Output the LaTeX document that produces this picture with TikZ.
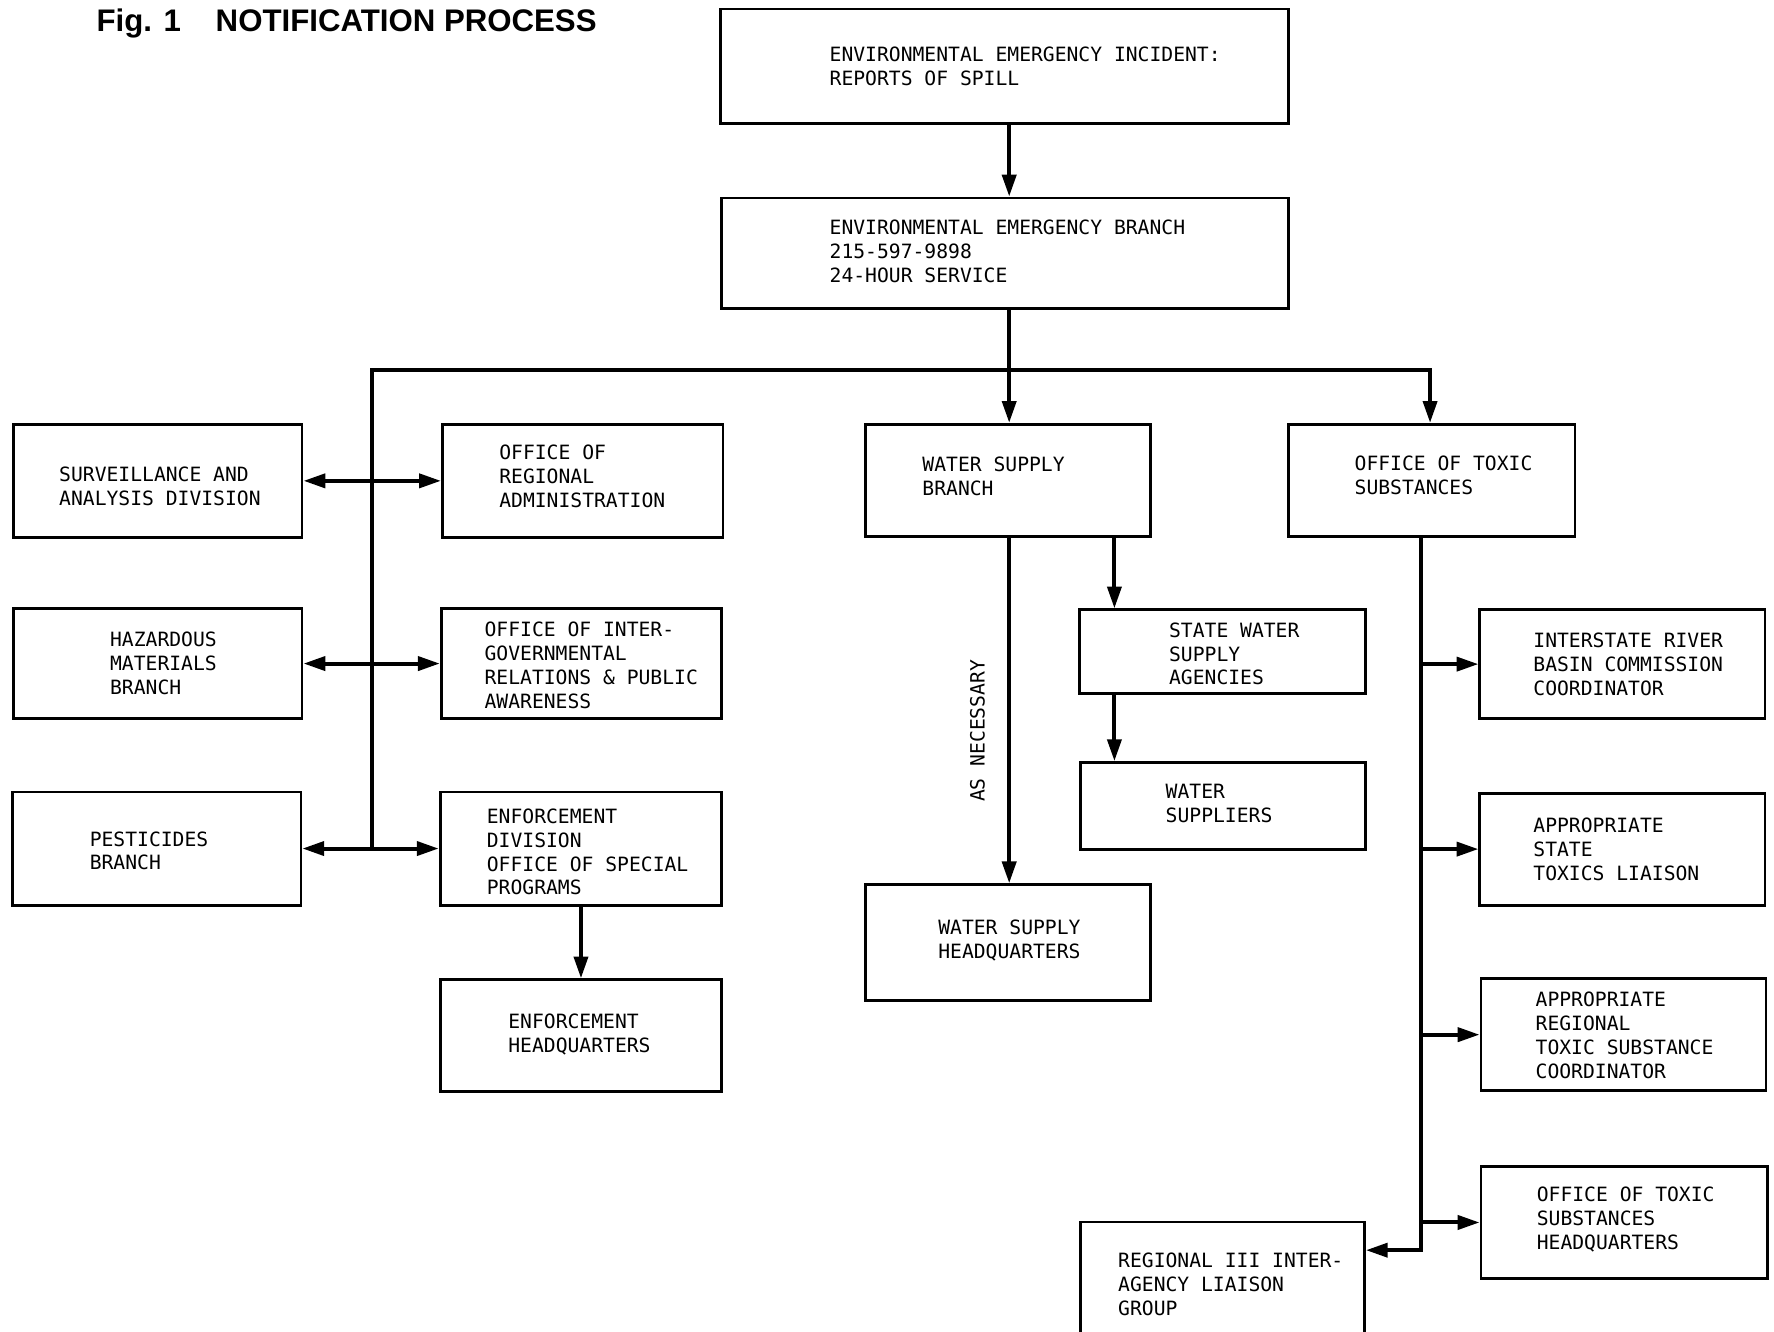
\documentclass[tikz,border=0pt]{standalone}
\usepackage{fontspec}
\newfontfamily\typer{DejaVu Sans Mono}
\newfontfamily\headfont{Liberation Sans}
\usetikzlibrary{arrows.meta,fit}

\begin{document}
\begin{tikzpicture}[x=0.02cm,y=-0.02cm,
  box/.style={draw, line width=1.4pt, inner sep=0pt},
  txt/.style={anchor=west, align=left, inner sep=0pt, font=\typer\fontsize{9.9}{12}\selectfont},
  line/.style={line width=2pt},
  arr/.style={line width=2pt, -{Triangle[length=11pt,width=7pt]}},
  dbl/.style={line width=2pt, {Triangle[length=11pt,width=7pt]}-{Triangle[length=11pt,width=7pt]}}]
\useasboundingbox (0,0) rectangle (1568,1177);
\node[anchor=base west, inner sep=0pt, font=\headfont\bfseries\fontsize{15.7}{19}\selectfont] (title) at (85,28) {Fig. 1\hspace{17.5pt}NOTIFICATION PROCESS};
% top of the chain
\node[box, fit={(637,8) (1139,109)}] (inc) {};
\node[txt] (inc-t) at (733,59) {ENVIRONMENTAL EMERGENCY INCIDENT:\\REPORTS OF SPILL};
\node[box, fit={(638,175) (1139,273)}] (eeb) {};
\node[txt] (eeb-t) at (733,222) {ENVIRONMENTAL EMERGENCY BRANCH\\215-597-9898\\24-HOUR SERVICE};
% left side
\node[box, fit={(12,375) (267,475)}] (surv) {};
\node[txt] (surv-t) at (52,430) {SURVEILLANCE AND\\ANALYSIS DIVISION};
\node[box, fit={(391,375) (639,475)}] (ora) {};
\node[txt] (ora-t) at (441,421) {OFFICE OF\\REGIONAL\\ADMINISTRATION};
\node[box, fit={(12,538) (267,635)}] (haz) {};
\node[txt] (haz-t) at (97,586) {HAZARDOUS\\MATERIALS\\BRANCH};
\node[box, fit={(390,538) (638,635)}] (oig) {};
\node[txt] (oig-t) at (428,588) {OFFICE OF INTER-\\GOVERNMENTAL\\RELATIONS \& PUBLIC\\AWARENESS};
\node[box, fit={(11,700) (266,800)}] (pest) {};
\node[txt] (pest-t) at (79,752) {PESTICIDES\\BRANCH};
\node[box, fit={(389,700) (638,800)}] (enf) {};
\node[txt] (enf-t) at (430,753) {ENFORCEMENT\\DIVISION\\OFFICE OF SPECIAL\\PROGRAMS};
\node[box, fit={(389,866) (638,965)}] (enfhq) {};
\node[txt] (enfhq-t) at (449,914) {ENFORCEMENT\\HEADQUARTERS};
% water supply
\node[box, fit={(765,375) (1017,474)}] (wsb) {};
\node[txt] (wsb-t) at (815,421) {WATER SUPPLY\\BRANCH};
\node[box, fit={(765,782) (1017,884)}] (wshq) {};
\node[txt] (wshq-t) at (829,831) {WATER SUPPLY\\HEADQUARTERS};
\node[box, fit={(954,539) (1207,613)}] (sw) {};
\node[txt] (sw-t) at (1033,578) {STATE WATER\\SUPPLY\\AGENCIES};
\node[box, fit={(955,674) (1207,751)}] (ws) {};
\node[txt] (ws-t) at (1030,710) {WATER\\SUPPLIERS};
\node[txt, anchor=center, rotate=90] (asnec) at (864,646) {AS NECESSARY};
% toxic substances
\node[box, fit={(1139,375) (1392,474)}] (ots) {};
\node[txt] (ots-t) at (1197,420) {OFFICE OF TOXIC\\SUBSTANCES};
\node[box, fit={(1308,539) (1560,635)}] (irb) {};
\node[txt] (irb-t) at (1355,587) {INTERSTATE RIVER\\BASIN COMMISSION\\COORDINATOR};
\node[box, fit={(1308,701) (1560,800)}] (ast) {};
\node[txt] (ast-t) at (1355,751) {APPROPRIATE\\STATE\\TOXICS LIAISON};
\node[box, fit={(1309,865) (1561,964)}] (arc) {};
\node[txt] (arc-t) at (1357,915) {APPROPRIATE\\REGIONAL\\TOXIC SUBSTANCE\\COORDINATOR};
\node[box, fit={(1309,1031) (1562,1130)}] (otshq) {};
\node[txt] (otshq-t) at (1358,1078) {OFFICE OF TOXIC\\SUBSTANCES\\HEADQUARTERS};
\node[box, fit={(955,1080) (1206,1200)}] (r3) {};
\node[txt] (r3-t) at (988,1135) {REGIONAL III INTER-\\AGENCY LIAISON\\GROUP};
% connectors
\coordinate (busL) at (329,327);
\coordinate (busM) at (892,327);
\coordinate (busR) at (1264,327);
\coordinate (tap) at (985,474);
\coordinate (trunk) at (1256,474);
\coordinate (trunkend) at (1256,1105);
\draw[arr] (busM |- inc.south) -- (busM |- eeb.north);
\draw[line] (busM |- eeb.south) -- (busM);
\draw[arr] (busL |- pest.east) -- (busL) -- (busR) -- (busR |- ots.north);
\draw[arr] (busM) -- (busM |- wsb.north);
\draw[dbl] (surv) -- (ora);
\draw[dbl] (haz) -- (oig);
\draw[dbl] (pest) -- (enf);
\draw[arr] (enf) -- (enfhq);
\draw[arr] (busM |- wsb.south) -- (busM |- wshq.north);
\draw[arr] (tap) -- (tap |- sw.north);
\draw[arr] (tap |- sw.south) -- (tap |- ws.north);
\draw[arr] (trunk) -- (trunkend) -- (trunkend -| r3.east);
\draw[arr] (trunk |- irb.west) -- (irb.west);
\draw[arr] (trunk |- ast.west) -- (ast.west);
\draw[arr] (trunk |- arc.west) -- (arc.west);
\draw[arr] (trunk |- otshq.west) -- (otshq.west);
\end{tikzpicture}
\end{document}
